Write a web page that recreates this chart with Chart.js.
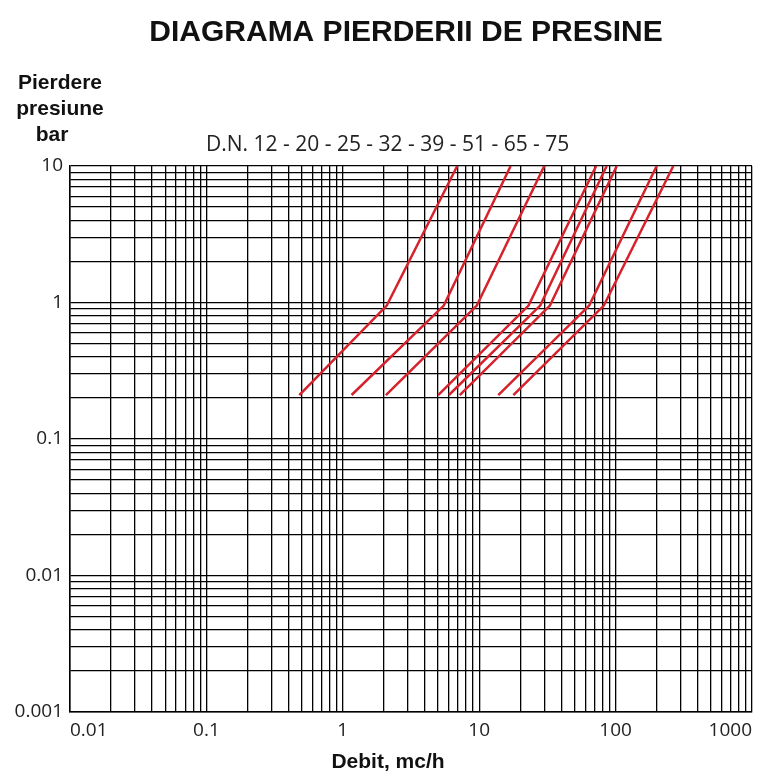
<!DOCTYPE html>
<html>
<head>
<meta charset="utf-8">
<script src="https://cdn.jsdelivr.net/npm/chart.js@4/dist/chart.umd.min.js"></script>
<style>
  body { margin: 0; background: #fff; }
</style>
</head>
<body>
<canvas id="grafic" width="757" height="774"></canvas>
<script>
// Textele graficului
const titlu = 'DIAGRAMA PIERDERII DE PRESINE';
const titluAxaY = ['Pierdere', 'presiune', 'bar'];
const titluAxaX = 'Debit, mc/h';
const etichetaDN = 'D.N. 12 - 20 - 25 - 32 - 39 - 51 - 65 - 75';

// Diametre nominale si valorile citite de pe diagrama (debit mc/h, pierdere bar)
const diametre = ['12', '20', '25', '32', '39', '51', '65', '75'];
const pierdere = [0.21, 0.95, 10];
const debitDN12 = [0.48, 2.1, 6.9];
const debitDN20 = [1.16, 5.5, 17];
const debitDN25 = [2.07, 9.6, 30];
const debitDN32 = [5.0, 23, 72];
const debitDN39 = [6.0, 28, 86];
const debitDN51 = [7.2, 33, 102];
const debitDN65 = [13.8, 64, 200];
const debitDN75 = [17.8, 82, 265];
const debite = [debitDN12, debitDN20, debitDN25, debitDN32, debitDN39, debitDN51, debitDN65, debitDN75];

// Etichetele axelor (decade)
const ticksX = [0.01, 0.1, 1, 10, 100, 1000];
const ticksY = [0.001, 0.01, 0.1, 1, 10];

// liniile de grila: 1..9 in fiecare decada
function grilaLog(decade) {
  const valori = [];
  decade.forEach((d, i) => {
    valori.push(d);
    if (i < decade.length - 1) {
      for (let k = 2; k <= 9; k++) valori.push(+(d * k).toPrecision(3));
    }
  });
  return valori;
}

const datasets = debite.map((xs, i) => ({
  label: 'D.N. ' + diametre[i],
  data: xs.map((x, j) => ({ x: x, y: pierdere[j] })),
  showLine: true,
  borderColor: 'rgb(214,34,44)',
  borderWidth: 2.5,
  pointRadius: 0,
  tension: 0
}));

const texte = {
  id: 'texte',
  afterDraw(chart) {
    const ctx = chart.ctx;
    ctx.save();
    ctx.fillStyle = '#111';
    ctx.textAlign = 'center';
    ctx.textBaseline = 'alphabetic';
    ctx.font = 'bold 30px "Liberation Sans", Arial, sans-serif';
    ctx.fillText(titlu, 406, 41);
    ctx.font = 'bold 21px "Liberation Sans", Arial, sans-serif';
    ctx.fillText(titluAxaY[0], 60, 89);
    ctx.fillText(titluAxaY[1], 60, 115);
    ctx.fillText(titluAxaY[2], 52, 141);
    ctx.fillText(titluAxaX, 388, 768);
    ctx.fillStyle = '#222';
    ctx.font = '21px "Open Sans", sans-serif';
    ctx.textAlign = 'left';
    ctx.fillText(etichetaDN, 206, 151);
    ctx.restore();
  }
};

const gridStyle = { color: '#000', lineWidth: 1.3, drawTicks: false };

new Chart(document.getElementById('grafic'), {
  type: 'scatter',
  data: { datasets: datasets },
  options: {
    responsive: false,
    animation: false,
    layout: { padding: { top: 166, right: 5, left: 0, bottom: 0 } },
    plugins: { legend: { display: false }, tooltip: { enabled: false } },
    scales: {
      x: {
        type: 'logarithmic',
        min: 0.01,
        max: 1000,
        grid: gridStyle,
        border: { color: '#000', width: 1.5 },
        afterBuildTicks: s => { s.ticks = grilaLog(ticksX).map(v => ({ value: v })); },
        afterFit: s => { s.height = 62; s.paddingLeft = 0; s.paddingRight = 0; },
        ticks: {
          autoSkip: false,
          maxRotation: 0,
          align: 'inner',
          padding: 7,
          color: '#222',
          font: { family: '"Open Sans", sans-serif', size: 19 },
          callback: v => ticksX.includes(v) ? String(v) : ''
        }
      },
      y: {
        type: 'logarithmic',
        min: 0.001,
        max: 10,
        grid: gridStyle,
        border: { color: '#000', width: 1.5 },
        afterBuildTicks: s => { s.ticks = grilaLog(ticksY).map(v => ({ value: v })); },
        afterFit: s => { s.width = 70; s.paddingTop = 0; s.paddingBottom = 0; },
        ticks: {
          autoSkip: false,
          padding: 7,
          color: '#222',
          font: { family: '"Open Sans", sans-serif', size: 19 },
          callback: v => ticksY.includes(v) ? String(v) : ''
        }
      }
    }
  },
  plugins: [texte]
});
</script>
</body>
</html>
